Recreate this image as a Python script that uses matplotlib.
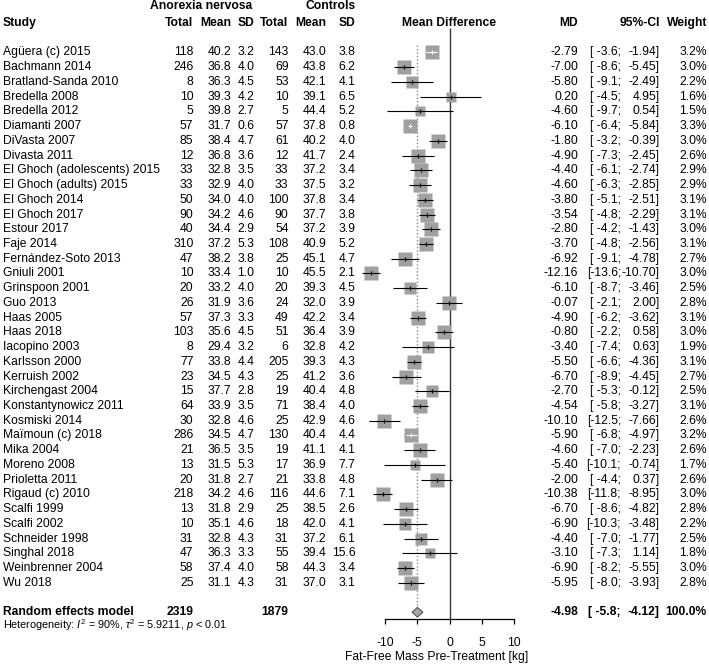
import matplotlib
matplotlib.use('Agg')
import matplotlib.pyplot as plt
import numpy as np

plt.rcParams['font.family'] = ['Liberation Sans', 'DejaVu Sans']
plt.rcParams['mathtext.fontset'] = 'custom'
plt.rcParams['mathtext.rm'] = 'Liberation Sans'
plt.rcParams['mathtext.it'] = 'Liberation Sans:italic'

# ---- data ----
studies = ["Agüera (c) 2015", "Bachmann 2014", "Bratland-Sanda 2010", "Bredella 2008",
           "Bredella 2012", "Diamanti 2007", "DiVasta 2007", "Divasta 2011",
           "El Ghoch (adolescents) 2015", "El Ghoch (adults) 2015", "El Ghoch 2014",
           "El Ghoch 2017", "Estour 2017", "Faje 2014", "Fernández-Soto 2013",
           "Gniuli 2001", "Grinspoon 2001", "Guo 2013", "Haas 2005", "Haas 2018",
           "Iacopino 2003", "Karlsson 2000", "Kerruish 2002", "Kirchengast 2004",
           "Konstantynowicz 2011", "Kosmiski 2014", "Maïmoun (c) 2018", "Mika 2004",
           "Moreno 2008", "Prioletta 2011", "Rigaud (c) 2010", "Scalfi 1999",
           "Scalfi 2002", "Schneider 1998", "Singhal 2018", "Weinbrenner 2004", "Wu 2018"]
an_n = [118, 246, 8, 10, 5, 57, 85, 12, 33, 33, 50, 90, 40, 310, 47, 10, 20, 26, 57, 103,
        8, 77, 23, 15, 64, 30, 286, 21, 13, 20, 218, 13, 10, 31, 47, 58, 25]
an_mean = [40.2, 36.8, 36.3, 39.3, 39.8, 31.7, 38.4, 36.8, 32.8, 32.9, 34.0, 34.2, 34.4,
           37.2, 38.2, 33.4, 33.2, 31.9, 37.3, 35.6, 29.4, 33.8, 34.5, 37.7, 33.9, 32.8,
           34.5, 36.5, 31.5, 31.8, 34.2, 31.8, 35.1, 32.8, 36.3, 37.4, 31.1]
an_sd = [3.2, 4.0, 4.5, 4.2, 2.7, 0.6, 4.7, 3.6, 3.5, 4.0, 4.0, 4.6, 2.9, 5.3, 3.8, 1.0,
         4.0, 3.6, 3.3, 4.5, 3.2, 4.4, 4.3, 2.8, 3.5, 4.6, 4.7, 3.5, 5.3, 2.7, 4.6, 2.9,
         4.6, 4.3, 3.3, 4.0, 4.3]
ct_n = [143, 69, 53, 10, 5, 57, 61, 12, 33, 33, 100, 90, 54, 108, 25, 10, 20, 24, 49, 51,
        6, 205, 25, 19, 71, 25, 130, 19, 17, 21, 116, 25, 18, 31, 55, 58, 31]
ct_mean = [43.0, 43.8, 42.1, 39.1, 44.4, 37.8, 40.2, 41.7, 37.2, 37.5, 37.8, 37.7, 37.2,
           40.9, 45.1, 45.5, 39.3, 32.0, 42.2, 36.4, 32.8, 39.3, 41.2, 40.4, 38.4, 42.9,
           40.4, 41.1, 36.9, 33.8, 44.6, 38.5, 42.0, 37.2, 39.4, 44.3, 37.0]
ct_sd = [3.8, 6.2, 4.1, 6.5, 5.2, 0.8, 4.0, 2.4, 3.4, 3.2, 3.4, 3.8, 3.9, 5.2, 4.7, 2.1,
         4.5, 3.9, 3.4, 3.9, 4.2, 4.3, 3.6, 4.8, 4.0, 4.6, 4.4, 4.1, 7.7, 4.8, 7.1, 2.6,
         4.1, 6.1, 15.6, 3.4, 3.1]
md = [-2.79, -7.00, -5.80, 0.20, -4.60, -6.10, -1.80, -4.90, -4.40, -4.60, -3.80, -3.54,
      -2.80, -3.70, -6.92, -12.16, -6.10, -0.07, -4.90, -0.80, -3.40, -5.50, -6.70, -2.70,
      -4.54, -10.10, -5.90, -4.60, -5.40, -2.00, -10.38, -6.70, -6.90, -4.40, -3.10,
      -6.90, -5.95]
ci_lo = [-3.6, -8.6, -9.1, -4.5, -9.7, -6.4, -3.2, -7.3, -6.1, -6.3, -5.1, -4.8, -4.2,
         -4.8, -9.1, -13.6, -8.7, -2.1, -6.2, -2.2, -7.4, -6.6, -8.9, -5.3, -5.8, -12.5,
         -6.8, -7.0, -10.1, -4.4, -11.8, -8.6, -10.3, -7.0, -7.3, -8.2, -8.0]
ci_hi = [-1.94, -5.45, -2.49, 4.95, 0.54, -5.84, -0.39, -2.45, -2.74, -2.85, -2.51, -2.29,
         -1.43, -2.56, -4.78, -10.70, -3.46, 2.00, -3.62, 0.58, 0.63, -4.36, -4.45, -0.12,
         -3.27, -7.66, -4.97, -2.23, -0.74, 0.37, -8.95, -4.82, -3.48, -1.77, 1.14, -5.55,
         -3.93]
weight = [3.2, 3.0, 2.2, 1.6, 1.5, 3.3, 3.0, 2.6, 2.9, 2.9, 3.1, 3.1, 3.0, 3.1, 2.7, 3.0,
          2.5, 2.8, 3.1, 3.0, 1.9, 3.1, 2.7, 2.5, 3.1, 2.6, 3.2, 2.6, 1.7, 2.6, 3.0, 2.8,
          2.2, 2.5, 1.8, 3.0, 2.8]

re_md, re_lo, re_hi = -4.98, -5.8, -4.12
an_total, ct_total = 2319, 1879
het_text = r"Heterogeneity: $I^2$ = 90%, $\tau^2$ = 5.9211, $p$ < 0.01"
x_ticks = [-10, -5, 0, 5, 10]
x_label = "Fat-Free Mass Pre-Treatment [kg]"

# ---- layout (pixels / rows) ----
W, H = 709, 664
row0_px, row_h = 52.5, 14.73
top_row = -row0_px / row_h
bot_row = (H - row0_px) / row_h
FS = 8.7

fig = plt.figure(figsize=(W / 100, H / 100), dpi=100)
tab = fig.add_axes([0, 0, 1, 1])
tab.set_xlim(0, W)
tab.set_ylim(bot_row, top_row)
tab.axis('off')

# forest axes: 0 at 449.5 px, 6.45 px per kg
zero_px, px_per = 449.5, 6.45
xmin, xmax = -15, 11
left_px = zero_px + xmin * px_per
fax = fig.add_axes([left_px / W, 0, (xmax - xmin) * px_per / W, 1])
fax.set_xlim(xmin, xmax)
fax.set_ylim(bot_row, top_row)
fax.patch.set_visible(False)
for s in ['top', 'right', 'left']:
    fax.spines[s].set_visible(False)
axis_row = (619.3 - row0_px) / row_h
fax.spines['bottom'].set_position(('data', axis_row))
fax.spines['bottom'].set_bounds(x_ticks[0], x_ticks[-1])
fax.spines['bottom'].set_linewidth(0.9)
fax.set_yticks([])
fax.set_xticks(x_ticks)
fax.set_xticklabels([str(t) for t in x_ticks])
fax.tick_params(axis='x', length=3.6, width=0.9, pad=9.5, labelsize=FS)
fax.set_xlabel(x_label, fontsize=FS, labelpad=1)

# column x positions (pixels)
col = dict(study=3, an_n=193.5, an_mean=231.5, an_sd=254.5, ct_n=288.5, ct_mean=326.5,
           ct_sd=355.5, md=578, ci_lo=621, ci_hi=659.5, w=707)

# headers
hdr = dict(fontsize=FS, fontweight='bold', va='center')
tab.text(201.5, -3.15, "Anorexia nervosa", ha='center', **hdr)
tab.text(col['ct_sd'], -3.15, "Controls", ha='right', **hdr)
tab.text(col['study'], -2, "Study", ha='left', **hdr)
for key, lab in [('an_n', 'Total'), ('an_mean', 'Mean'), ('an_sd', 'SD'),
                 ('ct_n', 'Total'), ('ct_mean', 'Mean'), ('ct_sd', 'SD'),
                 ('md', 'MD'), ('ci_hi', '95%-CI'), ('w', 'Weight')]:
    tab.text(col[key], -2, lab, ha='right', **hdr)
tab.text(zero_px, -2, "Mean Difference", ha='center', **hdr)


def ci_texts(row, lo, hi, style):
    tab.text(col['ci_lo'], row, f"[{lo:5.1f};", ha='right', **style)
    tab.text(col['ci_hi'], row, f"{hi:.2f}]", ha='right', **style)


# study rows
txt = dict(fontsize=FS, va='center')
for i, name in enumerate(studies):
    tab.text(col['study'], i, name, ha='left', **txt)
    tab.text(col['an_n'], i, f"{an_n[i]}", ha='right', **txt)
    tab.text(col['an_mean'], i, f"{an_mean[i]:.1f}", ha='right', **txt)
    tab.text(col['an_sd'], i, f"{an_sd[i]:.1f}", ha='right', **txt)
    tab.text(col['ct_n'], i, f"{ct_n[i]}", ha='right', **txt)
    tab.text(col['ct_mean'], i, f"{ct_mean[i]:.1f}", ha='right', **txt)
    tab.text(col['ct_sd'], i, f"{ct_sd[i]:.1f}", ha='right', **txt)
    tab.text(col['md'], i, f"{md[i]:.2f}", ha='right', **txt)
    ci_texts(i, ci_lo[i], ci_hi[i], txt)
    tab.text(col['w'], i, f"{weight[i]:.1f}%", ha='right', **txt)

# pooled row
re_row = len(studies) + 1
bold = dict(fontsize=FS, fontweight='bold', va='center')
tab.text(col['study'], re_row - 0.05, "Random effects model", ha='left', **bold)
tab.text(col['an_n'], re_row - 0.05, f"{an_total}", ha='right', **bold)
tab.text(col['ct_n'], re_row - 0.05, f"{ct_total}", ha='right', **bold)
tab.text(col['md'], re_row, f"{re_md:.2f}", ha='right', **bold)
ci_texts(re_row, re_lo, re_hi, bold)
tab.text(col['w'], re_row, f"{sum(weight) / sum(weight) * 100:.1f}%", ha='right', **bold)
tab.text(col['study'], re_row + 0.9, het_text, ha='left', fontsize=7.8, va='center')

# forest marks
rows = np.arange(len(studies))
fax.vlines(0, -1.66, axis_row, color='#333333', lw=1.0)
fax.vlines(re_md, -0.5, re_row - 0.35, color='#8a8a8a', lw=1.0, linestyles=(0, (1, 1.5)))
side_px = 14.5 * np.sqrt(np.array(weight) / 3.2)
for i in rows:
    fax.plot(md[i], i, marker='s', ms=side_px[i] * 0.72, color='#a0a0a0', mec='none',
             clip_on=False, zorder=2)
    inside = (ci_hi[i] - ci_lo[i]) * px_per < side_px[i]
    lc = 'white' if inside else 'black'
    fax.hlines(i, ci_lo[i], ci_hi[i], color=lc, lw=0.8, zorder=3, clip_on=False)
    fax.plot(md[i], i, marker='|', ms=3, mew=0.9, color=lc, zorder=4, clip_on=False)

fax.fill([re_lo, re_md, re_hi, re_md], [re_row, re_row - 0.33, re_row, re_row + 0.33],
         facecolor='#a6a6a6', edgecolor='#555555', lw=0.8, zorder=3)

fig.savefig('out.png', dpi=100)
